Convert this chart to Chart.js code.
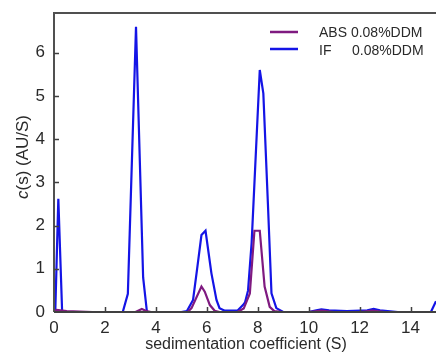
<!DOCTYPE html>
<html>
<head>
<meta charset="utf-8">
<script src="https://cdn.jsdelivr.net/npm/chart.js@4"></script>
<style>
  html, body { margin: 0; padding: 0; background: #fff; }
  #wrap { width: 436px; height: 355px; }
</style>
</head>
<body>
<div id="wrap"><canvas id="chart"></canvas></div>
<script>
// Datos
const ifS = [0, 0.05, 0.17, 0.32, 1, 2, 2.7, 2.9, 3.22, 3.5, 3.65, 4, 5, 5.22, 5.46, 5.62, 5.79, 5.95, 6.18, 6.38, 6.5, 6.7, 7.2, 7.42, 7.5, 7.62, 7.76, 8.08, 8.22, 8.4, 8.54, 8.73, 9.0, 10, 10.3, 10.5, 10.8, 11.5, 12.3, 12.55, 12.8, 13.5, 14.8, 15];
const ifC = [0, 0, 2.62, 0, 0, 0, 0, 0.42, 6.6, 0.8, 0, 0, 0, 0.02, 0.28, 1.0, 1.78, 1.88, 0.9, 0.28, 0.09, 0.03, 0.03, 0.16, 0.22, 0.5, 1.6, 5.6, 5.06, 2.5, 0.43, 0.09, 0, 0, 0.04, 0.06, 0.04, 0.02, 0.04, 0.07, 0.04, 0, 0, 0.25];

const absS = [0, 0.1, 0.25, 0.5, 1, 1.5, 3.2, 3.45, 3.6, 3.8, 5.25, 5.4, 5.79, 5.92, 6.12, 6.31, 6.5, 7.2, 7.45, 7.69, 7.87, 8.08, 8.27, 8.47, 8.65, 9, 10, 10.5, 11, 12, 12.5, 13, 15];
const absC = [0, 0.05, 0.04, 0.02, 0.01, 0, 0, 0.07, 0.03, 0, 0, 0.09, 0.59, 0.47, 0.16, 0.03, 0, 0, 0.08, 0.43, 1.88, 1.88, 0.59, 0.12, 0.02, 0, 0, 0.03, 0, 0, 0.03, 0, 0];

const xTicks = [0, 2, 4, 6, 8, 10, 12, 14];
const yTicks = [0, 1, 2, 3, 4, 5, 6];

const colorAbs = "#7f1a80";
const colorIf = "#1414e6";

function toPoints(xs, ys) {
    return xs.map((x, i) => ({ x: x, y: ys[i] }));
}

// Marco, ticks interiores, títulos y leyenda
const decoPlugin = {
    id: "deco",
    afterDraw(chart) {
        const ctx = chart.ctx;
        const a = chart.chartArea;
        const xs = chart.scales.x;
        const ys = chart.scales.y;
        ctx.save();
        ctx.strokeStyle = "#505050";
        ctx.lineWidth = 2;
        ctx.beginPath();
        ctx.moveTo(a.left, a.bottom);
        ctx.lineTo(a.left, a.top);
        ctx.lineTo(a.right, a.top);
        ctx.stroke();
        ctx.beginPath();
        ctx.strokeStyle = "#404040";
        ctx.moveTo(a.left, a.bottom);
        ctx.lineTo(a.right, a.bottom);
        ctx.stroke();

        // ticks hacia adentro
        ctx.lineWidth = 1.5;
        xTicks.forEach(v => {
            if (v === 0) return;
            const px = Math.round(xs.getPixelForValue(v)) + 0.5;
            ctx.beginPath();
            ctx.moveTo(px, a.bottom);
            ctx.lineTo(px, a.bottom - 5);
            ctx.stroke();
        });
        yTicks.forEach(v => {
            if (v === 0) return;
            const py = Math.round(ys.getPixelForValue(v)) + 0.5;
            ctx.beginPath();
            ctx.moveTo(a.left, py);
            ctx.lineTo(a.left + 5, py);
            ctx.stroke();
        });

        // título eje x
        ctx.fillStyle = "#2a2a2a";
        ctx.font = "16px 'Liberation Sans', Arial, sans-serif";
        ctx.textAlign = "center";
        ctx.textBaseline = "middle";
        ctx.fillText("sedimentation coefficient (S)", 246, 345);

        // título eje y con c en cursiva
        ctx.translate(23, 157);
        ctx.rotate(-Math.PI / 2);
        ctx.textAlign = "left";
        const fItal = "italic 17px 'Liberation Sans', Arial, sans-serif";
        const fNorm = "17px 'Liberation Sans', Arial, sans-serif";
        ctx.font = fItal;
        const w1 = ctx.measureText("c").width;
        ctx.font = fNorm;
        const w2 = ctx.measureText("(s) (AU/S)").width;
        const x0 = -(w1 + w2) / 2;
        ctx.font = fItal;
        ctx.fillText("c", x0, 0);
        ctx.font = fNorm;
        ctx.fillText("(s) (AU/S)", x0 + w1, 0);
        ctx.restore();

        // leyenda
        ctx.save();
        ctx.lineWidth = 2.5;
        ctx.strokeStyle = colorAbs;
        ctx.beginPath();
        ctx.moveTo(270, 32);
        ctx.lineTo(298, 32);
        ctx.stroke();
        ctx.strokeStyle = colorIf;
        ctx.beginPath();
        ctx.moveTo(270, 49);
        ctx.lineTo(298, 49);
        ctx.stroke();
        ctx.fillStyle = "#2a2a2a";
        ctx.font = "14px 'Liberation Sans', Arial, sans-serif";
        ctx.textBaseline = "middle";
        ctx.textAlign = "left";
        ctx.fillText("ABS 0.08%DDM", 319, 33);
        ctx.fillText("IF", 319, 51);
        ctx.fillText("0.08%DDM", 352, 51);
        ctx.restore();
    }
};

new Chart(document.getElementById("chart"), {
    type: "line",
    data: {
        datasets: [
            {
                label: "ABS 0.08%DDM",
                data: toPoints(absS, absC),
                borderColor: colorAbs,
                borderWidth: 2.2,
                pointRadius: 0,
                tension: 0,
                fill: false
            },
            {
                label: "IF 0.08%DDM",
                data: toPoints(ifS, ifC),
                borderColor: colorIf,
                borderWidth: 2.2,
                pointRadius: 0,
                tension: 0,
                fill: false
            }
        ]
    },
    options: {
        responsive: true,
        maintainAspectRatio: false,
        animation: false,
        layout: { padding: { top: 13, right: 0, left: 0, bottom: 0 } },
        plugins: {
            legend: { display: false },
            tooltip: { enabled: false }
        },
        scales: {
            x: {
                type: "linear",
                min: 0,
                max: 15,
                grid: { display: false, drawTicks: false },
                border: { display: false },
                afterBuildTicks: s => { s.ticks = xTicks.map(v => ({ value: v })); },
                afterFit: s => { s.height = 43; s.paddingLeft = 0; s.paddingRight = 0; },
                ticks: {
                    color: "#2a2a2a",
                    padding: 6,
                    maxRotation: 0,
                    font: { family: "'Liberation Sans', Arial", size: 17 }
                }
            },
            y: {
                min: 0,
                max: 6.92,
                grid: { display: false, drawTicks: false },
                border: { display: false },
                afterBuildTicks: s => { s.ticks = yTicks.map(v => ({ value: v })); },
                afterFit: s => { s.width = 54; s.paddingTop = 0; s.paddingBottom = 0; },
                ticks: {
                    color: "#2a2a2a",
                    padding: 9,
                    font: { family: "'Liberation Sans', Arial", size: 17 }
                }
            }
        }
    },
    plugins: [decoPlugin]
});
</script>
</body>
</html>
